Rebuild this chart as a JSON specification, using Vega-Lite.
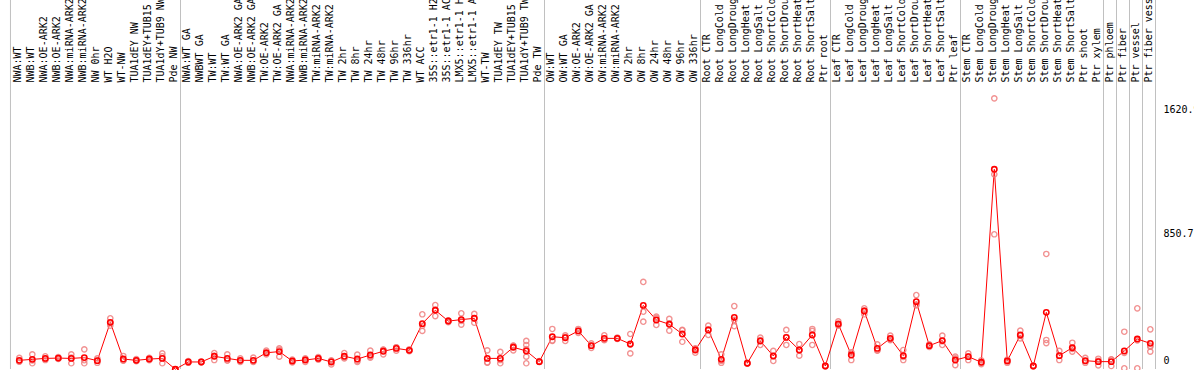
{
  "$schema": "https://vega.github.io/schema/vega-lite/v6.json",
  "width": 1156,
  "height": 369,
  "autosize": "none",
  "padding": {"left": 1, "top": 0, "right": 37, "bottom": 1},
  "background": "white",
  "config": {"view": {"stroke": null}, "font": "DejaVu Sans Mono"},
  "datasets": {
    "samples": [
      {"i": 0, "label": "NWA:WT", "mean": 35, "reps": [50, 28, 27]},
      {"i": 1, "label": "NWB:WT", "mean": 41, "reps": [72, 17, 34]},
      {"i": 2, "label": "NWA:OE-ARK2", "mean": 47, "reps": [60, 37, 44]},
      {"i": 3, "label": "NWB:OE-ARK2", "mean": 49, "reps": [55, 44, 48]},
      {"i": 4, "label": "NWA:miRNA-ARK2", "mean": 47, "reps": [72, 17, 52]},
      {"i": 5, "label": "NWB:miRNA-ARK2", "mean": 52, "reps": [103, 17, 36]},
      {"i": 6, "label": "NW 0hr", "mean": 33, "reps": [47, 20, 32]},
      {"i": 7, "label": "WT H2O", "mean": 270, "reps": [295, 250, 265]},
      {"i": 8, "label": "WT-NW", "mean": 43, "reps": [62, 33, 34]},
      {"i": 9, "label": "TUA1dEY NW", "mean": 35, "reps": [42, 30, 33]},
      {"i": 10, "label": "TUA1dEY+TUB15", "mean": 43, "reps": [50, 36, 43]},
      {"i": 11, "label": "TUA1dY+TUB9 NW", "mean": 47, "reps": [78, 17, 60]},
      {"i": 12, "label": "Pde NW", "mean": -20, "reps": [-20, -20, -20]},
      {"i": 13, "label": "NWA:WT GA", "mean": 25, "reps": [30, 20, 25]},
      {"i": 14, "label": "NWBWT GA", "mean": 25, "reps": [28, 22, 25]},
      {"i": 15, "label": "TW:WT", "mean": 60, "reps": [80, 37, 63]},
      {"i": 16, "label": "TW:WT GA", "mean": 47, "reps": [72, 35, 34]},
      {"i": 17, "label": "NWA:OE-ARK2 GA", "mean": 35, "reps": [47, 25, 33]},
      {"i": 18, "label": "NWB:OE-ARK2 GA", "mean": 35, "reps": [52, 25, 28]},
      {"i": 19, "label": "TW:OE-ARK2", "mean": 82, "reps": [95, 72, 79]},
      {"i": 20, "label": "TW:OE-ARK2 GA", "mean": 89, "reps": [109, 58, 100]},
      {"i": 21, "label": "NWA:miRNA-ARK2", "mean": 31, "reps": [40, 22, 31]},
      {"i": 22, "label": "NWB:miRNA-ARK2", "mean": 37, "reps": [47, 25, 39]},
      {"i": 23, "label": "TW:miRNA-ARK2", "mean": 47, "reps": [55, 40, 46]},
      {"i": 24, "label": "TW:miRNA-ARK2", "mean": 25, "reps": [10, 35, 30]},
      {"i": 25, "label": "TW 2hr", "mean": 60, "reps": [80, 47, 53]},
      {"i": 26, "label": "TW 8hr", "mean": 43, "reps": [70, 33, 26]},
      {"i": 27, "label": "TW 24hr", "mean": 68, "reps": [95, 58, 51]},
      {"i": 28, "label": "TW 48hr", "mean": 91, "reps": [101, 72, 100]},
      {"i": 29, "label": "TW 96hr", "mean": 109, "reps": [116, 95, 116]},
      {"i": 30, "label": "TW 336hr", "mean": 97, "reps": [103, 92, 96]},
      {"i": 31, "label": "WT ACC", "mean": 262, "reps": [320, 217, 249]},
      {"i": 32, "label": "35S::etr1-1 H2", "mean": 345, "reps": [377, 309, 349]},
      {"i": 33, "label": "35S::etr1-1 AC", "mean": 278, "reps": [283, 272, 279]},
      {"i": 34, "label": "LMX5::etr1-1 H", "mean": 287, "reps": [326, 256, 279]},
      {"i": 35, "label": "LMX5::etr1-1 A", "mean": 295, "reps": [322, 268, 295]},
      {"i": 36, "label": "WT-TW", "mean": 47, "reps": [97, 23, 21]},
      {"i": 37, "label": "TUA1dEY TW", "mean": 47, "reps": [87, 17, 37]},
      {"i": 38, "label": "TUA1dEY+TUB15", "mean": 116, "reps": [126, 97, 125]},
      {"i": 39, "label": "TUA1dY+TUB9 TW", "mean": 93, "reps": [155, 130, 58, 17, 105]},
      {"i": 40, "label": "Pde TW", "mean": 27, "reps": [30, 25, 26]},
      {"i": 41, "label": "OW:WT", "mean": 181, "reps": [229, 155, 159]},
      {"i": 42, "label": "OW:WT GA", "mean": 175, "reps": [190, 155, 180]},
      {"i": 43, "label": "OW:OE-ARK2", "mean": 217, "reps": [229, 205, 217]},
      {"i": 44, "label": "OW:OE-ARK2 GA", "mean": 126, "reps": [140, 112, 126]},
      {"i": 45, "label": "OW:miRNA-ARK2", "mean": 171, "reps": [190, 160, 163]},
      {"i": 46, "label": "OW:miRNA-ARK2", "mean": 171, "reps": [175, 168, 170]},
      {"i": 47, "label": "OW 2hr", "mean": 136, "reps": [198, 78, 132]},
      {"i": 48, "label": "OW 8hr", "mean": 375, "reps": [520, 336, 274]},
      {"i": 49, "label": "OW 24hr", "mean": 285, "reps": [305, 254, 296]},
      {"i": 50, "label": "OW 48hr", "mean": 258, "reps": [291, 219, 264]},
      {"i": 51, "label": "OW 96hr", "mean": 198, "reps": [223, 150, 221]},
      {"i": 52, "label": "OW 336hr", "mean": 99, "reps": [109, 82, 106]},
      {"i": 53, "label": "Root CTR", "mean": 223, "reps": [250, 192, 227]},
      {"i": 54, "label": "Root LongCold", "mean": 41, "reps": [72, 31, 20]},
      {"i": 55, "label": "Root LongDroug", "mean": 301, "reps": [371, 247, 285]},
      {"i": 56, "label": "Root LongHeat", "mean": 17, "reps": [20, 14, 17]},
      {"i": 57, "label": "Root LongSalt", "mean": 155, "reps": [175, 130, 160]},
      {"i": 58, "label": "Root ShortCold", "mean": 62, "reps": [93, 31, 62]},
      {"i": 59, "label": "Root ShortDrou", "mean": 177, "reps": [223, 130, 178]},
      {"i": 60, "label": "Root ShortHeat", "mean": 99, "reps": [136, 64, 97]},
      {"i": 61, "label": "Root ShortSalt", "mean": 192, "reps": [217, 130, 229]},
      {"i": 62, "label": "Ptr root", "mean": 0, "reps": [0, 2, -2]},
      {"i": 63, "label": "Leaf CTR", "mean": 260, "reps": [276, 250, 254]},
      {"i": 64, "label": "Leaf LongCold", "mean": 68, "reps": [82, 37, 85]},
      {"i": 65, "label": "Leaf LongDroug", "mean": 340, "reps": [357, 320, 343]},
      {"i": 66, "label": "Leaf LongHeat", "mean": 109, "reps": [134, 95, 98]},
      {"i": 67, "label": "Leaf LongSalt", "mean": 171, "reps": [188, 160, 165]},
      {"i": 68, "label": "Leaf ShortCold", "mean": 64, "reps": [99, 37, 56]},
      {"i": 69, "label": "Leaf ShortDrou", "mean": 398, "reps": [439, 380, 375]},
      {"i": 70, "label": "Leaf ShortHeat", "mean": 126, "reps": [134, 118, 126]},
      {"i": 71, "label": "Leaf ShortSalt", "mean": 157, "reps": [188, 130, 153]},
      {"i": 72, "label": "Ptr leaf", "mean": 37, "reps": [58, 6, 47]},
      {"i": 73, "label": "Stem CTR", "mean": 58, "reps": [78, 37, 59]},
      {"i": 74, "label": "Stem LongCold", "mean": 23, "reps": [35, 12, 22]},
      {"i": 75, "label": "Stem LongDroug", "mean": 1217, "reps": [1656, 1186, 815]},
      {"i": 76, "label": "Stem LongHeat", "mean": 31, "reps": [40, 20, 33]},
      {"i": 77, "label": "Stem LongSalt", "mean": 192, "reps": [219, 171, 186]},
      {"i": 78, "label": "Stem ShortCold", "mean": 0, "reps": [2, -3, 1]},
      {"i": 79, "label": "Stem ShortDrou", "mean": 332, "reps": [693, 161, 142]},
      {"i": 80, "label": "Stem ShortHeat", "mean": 64, "reps": [93, 37, 62]},
      {"i": 81, "label": "Stem ShortSalt", "mean": 113, "reps": [144, 89, 106]},
      {"i": 82, "label": "Ptr shoot", "mean": 33, "reps": [50, 20, 29]},
      {"i": 83, "label": "Ptr xylem", "mean": 27, "reps": [45, 4, 32]},
      {"i": 84, "label": "Ptr phloem", "mean": 27, "reps": [41, 0, 40]},
      {"i": 85, "label": "Ptr fiber", "mean": 93, "reps": [212, -14, 81]},
      {"i": 86, "label": "Ptr vessel", "mean": 167, "reps": [357, -14, 158]},
      {"i": 87, "label": "Ptr fiber vess", "mean": 140, "reps": [227, 119, 89, 125]}
    ],
    "bounds": [
      {"b": -0.68}, {"b": 12.4}, {"b": 40.4}, {"b": 52.4}, {"b": 62.4}, {"b": 72.4},
      {"b": 83.4}, {"b": 84.4}, {"b": 85.4}, {"b": 86.4}, {"b": 87.4}
    ]
  },
  "layer": [
    {
      "data": {"name": "bounds"},
      "mark": {"type": "rule", "color": "#c0c0c0", "strokeWidth": 1},
      "encoding": {
        "x": {"field": "b", "type": "quantitative", "axis": null,
              "scale": {"type": "linear", "domain": [-1.40769, 87.51538], "nice": false, "zero": false}}
      }
    },
    {
      "mark": {"type": "rule", "color": "#c0c0c0", "strokeWidth": 1},
      "encoding": {
        "y": {"datum": 850.7, "type": "quantitative",
              "scale": {"type": "linear", "domain": [-18.561, 2264.4], "nice": false, "zero": false}}
      }
    },
    {
      "data": {"name": "samples"},
      "mark": {"type": "line", "color": "#ff0000", "strokeWidth": 1},
      "encoding": {
        "x": {"field": "i", "type": "quantitative", "axis": null,
              "scale": {"type": "linear", "domain": [-1.40769, 87.51538], "nice": false, "zero": false}},
        "y": {"field": "mean", "type": "quantitative",
              "scale": {"type": "linear", "domain": [-18.561, 2264.4], "nice": false, "zero": false},
              "axis": {"orient": "right", "values": [0, 850.7, 1620.9],
                       "labelExpr": "datum.value == 0 ? '0' : format(datum.value, '.1f')",
                       "grid": false, "domain": false, "ticks": false, "title": null,
                       "labelPadding": 6, "labelFont": "DejaVu Sans Mono", "labelFontSize": 10,
                       "labelColor": "#000000", "labelAlign": "left",
                       "labelBaseline": {"condition": {"test": "datum.value == 0", "value": "bottom"}, "value": "top"},
                       "labelBound": false, "labelFlush": false, "labelOverlap": false}}
      }
    },
    {
      "data": {"name": "samples"},
      "transform": [{"flatten": ["reps"], "as": ["rep"]}],
      "mark": {"type": "point", "shape": "circle", "filled": false, "stroke": "#f08080", "strokeWidth": 1.4, "opacity": 0.85, "size": 28},
      "encoding": {
        "x": {"field": "i", "type": "quantitative", "axis": null,
              "scale": {"type": "linear", "domain": [-1.40769, 87.51538], "nice": false, "zero": false}},
        "y": {"field": "rep", "type": "quantitative",
              "scale": {"type": "linear", "domain": [-18.561, 2264.4], "nice": false, "zero": false}}
      }
    },
    {
      "data": {"name": "samples"},
      "mark": {"type": "point", "shape": "circle", "filled": false, "stroke": "#ff0000", "strokeWidth": 1.6, "opacity": 1, "size": 28},
      "encoding": {
        "x": {"field": "i", "type": "quantitative", "axis": null,
              "scale": {"type": "linear", "domain": [-1.40769, 87.51538], "nice": false, "zero": false}},
        "y": {"field": "mean", "type": "quantitative",
              "scale": {"type": "linear", "domain": [-18.561, 2264.4], "nice": false, "zero": false}}
      }
    },
    {
      "mark": {"type": "rule", "color": "#000000", "strokeWidth": 1},
      "encoding": {
        "x": {"datum": -1.36923, "type": "quantitative",
              "scale": {"type": "linear", "domain": [-1.40769, 87.51538], "nice": false, "zero": false}}
      }
    },
    {
      "mark": {"type": "rule", "color": "#000000", "strokeWidth": 1},
      "encoding": {
        "x": {"datum": 87.4769, "type": "quantitative",
              "scale": {"type": "linear", "domain": [-1.40769, 87.51538], "nice": false, "zero": false}}
      }
    },
    {
      "mark": {"type": "rule", "color": "#000000", "strokeWidth": 1},
      "encoding": {
        "y": {"datum": -15.467, "type": "quantitative",
              "scale": {"type": "linear", "domain": [-18.561, 2264.4], "nice": false, "zero": false}}
      }
    },
    {
      "mark": {"type": "rule", "color": "#000000", "strokeWidth": 1},
      "encoding": {
        "x": {"datum": -1.40769, "type": "quantitative",
              "scale": {"type": "linear", "domain": [-1.40769, 87.51538], "nice": false, "zero": false}},
        "x2": {"datum": 90.4},
        "y": {"datum": 1735.5, "type": "quantitative",
              "scale": {"type": "linear", "domain": [-18.561, 2264.4], "nice": false, "zero": false}}
      }
    },
    {
      "data": {"name": "samples"},
      "mark": {"type": "text", "angle": 270, "align": "left", "baseline": "middle", "font": "DejaVu Sans Mono", "fontSize": 10, "color": "#000000", "dy": -1},
      "encoding": {
        "x": {"field": "i", "type": "quantitative",
              "scale": {"type": "linear", "domain": [-1.40769, 87.51538], "nice": false, "zero": false}},
        "y": {"datum": 1754, "type": "quantitative",
              "scale": {"type": "linear", "domain": [-18.561, 2264.4], "nice": false, "zero": false}},
        "text": {"field": "label"}
      }
    },
    {
      "mark": {"type": "text", "align": "left", "baseline": "middle", "font": "DejaVu Sans Mono", "fontSize": 10, "color": "#ff0000"},
      "encoding": {
        "x": {"datum": -0.831, "type": "quantitative",
              "scale": {"type": "linear", "domain": [-1.40769, 87.51538], "nice": false, "zero": false}},
        "y": {"datum": 1668.6, "type": "quantitative",
              "scale": {"type": "linear", "domain": [-18.561, 2264.4], "nice": false, "zero": false}},
        "text": {"value": "Potri.001G145700"}
      }
    }
  ]
}
